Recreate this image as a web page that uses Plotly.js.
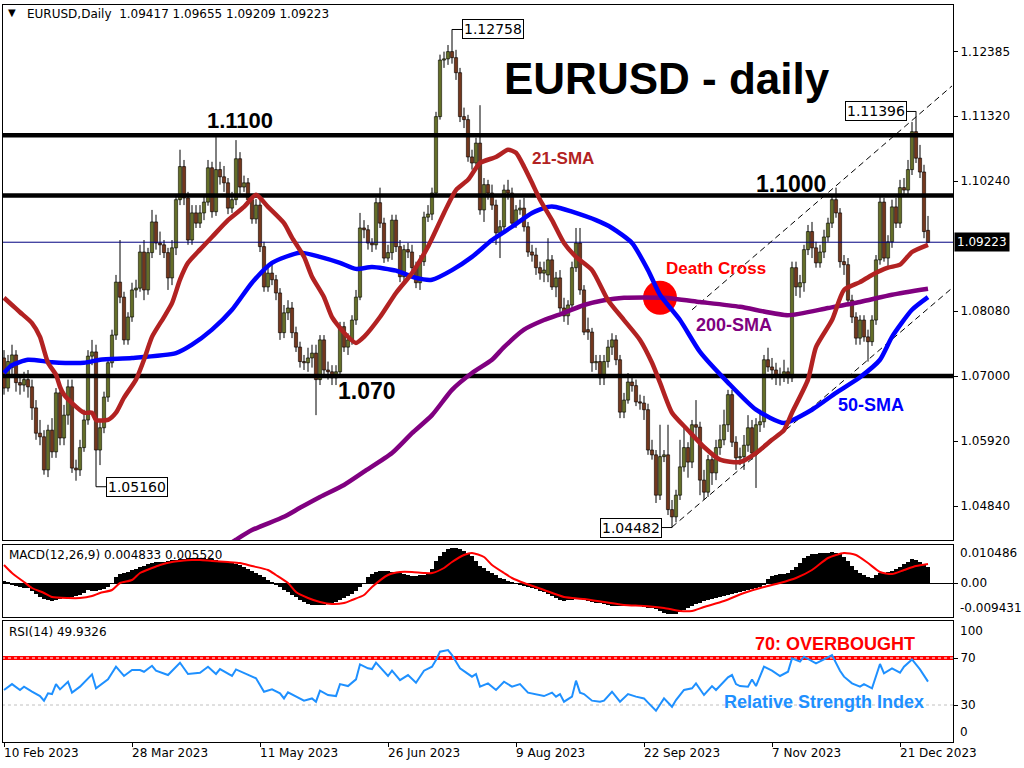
<!DOCTYPE html>
<html>
<head>
<meta charset="utf-8">
<script src="https://cdn.plot.ly/plotly-3.0.1.min.js"></script>
<style>
html,body{margin:0;padding:0;background:#ffffff;}
#chart{width:1024px;height:768px;}
</style>
</head>
<body>
<div id="chart"></div>
<script>
// ---------------- DATA ----------------
const xTickIdx  = [0, 32, 64, 96, 128, 160, 192, 224];
const xTickText = ['10 Feb 2023','28 Mar 2023','11 May 2023','26 Jun 2023','9 Aug 2023','22 Sep 2023','7 Nov 2023','21 Dec 2023'];

const openP = [
1.0730,1.0680,1.0714,1.0735,1.0689,1.0685,1.0694,1.0682,1.0647,1.0605,
1.0599,1.0544,1.0610,1.0574,1.0672,1.0597,1.0635,1.0682,1.0547,1.0544,
1.0581,1.0627,1.0733,1.0740,1.0577,1.0614,1.0665,1.0722,1.0768,1.0856,
1.0831,1.0760,1.0798,1.0843,1.0846,1.0906,1.0843,1.0905,1.0956,1.0921,
1.0918,1.0905,1.0863,1.0913,1.0993,1.1048,1.0996,1.0926,1.0971,1.0954,
1.0971,1.0989,1.1046,1.0973,1.1043,1.1031,1.1021,1.0979,1.0993,1.1061,
1.1014,1.1021,1.0993,1.0961,1.0984,1.0915,1.0848,1.0871,1.0860,1.0838,
1.0772,1.0805,1.0813,1.0772,1.0748,1.0724,1.0722,1.0730,1.0738,1.0694,
1.0760,1.0710,1.0707,1.0697,1.0707,1.0782,1.0748,1.0760,1.0793,1.0831,
1.0946,1.0943,1.0921,1.0918,1.0988,1.0954,1.0896,1.0905,1.0959,1.0915,
1.0865,1.0910,1.0906,1.0880,1.0855,1.0890,1.0964,1.0969,1.1004,1.1131,
1.1225,1.1227,1.1239,1.1229,1.1204,1.1131,1.1126,1.1064,1.1054,1.1087,
1.0976,1.1018,1.1004,1.0984,1.0938,1.0948,1.1009,1.1004,1.0954,1.0976,
1.0979,1.0948,1.0906,1.0901,1.0880,1.0871,1.0868,1.0893,1.0848,1.0863,
1.0813,1.0800,1.0818,1.0880,1.0921,1.0843,1.0777,1.0773,1.0722,1.0724,
1.0697,1.0724,1.0748,1.0760,1.0727,1.0640,1.0660,1.0690,1.0684,1.0657,
1.0655,1.0644,1.0577,1.0569,1.0502,1.0566,1.0569,1.0478,1.0466,1.0502,
1.0549,1.0581,1.0557,1.0619,1.0615,1.0527,1.0507,1.0561,1.0539,1.0581,
1.0594,1.0619,1.0669,1.0590,1.0564,1.0566,1.0585,1.0614,1.0572,1.0619,
1.0624,1.0727,1.0715,1.0710,1.0699,1.0702,1.0707,1.0697,1.0880,1.0848,
1.0855,1.0910,1.0940,1.0913,1.0888,1.0906,1.0931,1.0954,1.0993,1.0971,
1.0890,1.0885,1.0826,1.0798,1.0763,1.0793,1.0765,1.0757,1.0793,1.0893,
1.0989,1.0896,1.0923,1.0981,1.0954,1.1013,1.1009,1.1043,1.1106,1.1062,
1.1039,1.0942];

const highP = [
1.0743,1.0735,1.0752,1.0743,1.0700,1.0707,1.0710,1.0694,1.0660,1.0627,
1.0610,1.0619,1.0630,1.0680,1.0685,1.0652,1.0694,1.0694,1.0561,1.0594,
1.0644,1.0743,1.0760,1.0752,1.0627,1.0674,1.0730,1.0777,1.0868,1.0926,
1.0840,1.0806,1.0855,1.0860,1.0918,1.0926,1.0913,1.0976,1.0968,1.0940,
1.0926,1.0913,1.0926,1.1001,1.1076,1.1059,1.1006,1.0984,1.0984,1.0984,
1.1001,1.1059,1.1056,1.1097,1.1056,1.1049,1.1029,1.1006,1.1092,1.1072,
1.1033,1.1029,1.1001,1.0994,1.0993,1.0923,1.0883,1.0885,1.0868,1.0846,
1.0818,1.0826,1.0823,1.0782,1.0757,1.0735,1.0747,1.0752,1.0752,1.0768,
1.0768,1.0724,1.0718,1.0718,1.0790,1.0790,1.0771,1.0801,1.0843,1.0971,
1.0959,1.0951,1.0929,1.0996,1.1013,1.0963,1.0918,1.0968,1.0968,1.0926,
1.0918,1.0921,1.0918,1.0890,1.0901,1.0973,1.0984,1.1013,1.1139,1.1234,
1.1239,1.1250,1.1276,1.1242,1.1212,1.1146,1.1134,1.1076,1.1096,1.1150,
1.1029,1.1026,1.1018,1.0993,1.0959,1.1018,1.1026,1.1013,1.0984,1.0993,
1.0996,1.0956,1.0918,1.0913,1.0890,1.0890,1.0929,1.0901,1.0873,1.0876,
1.0830,1.0826,1.0890,1.0946,1.0946,1.0851,1.0797,1.0780,1.0735,1.0735,
1.0735,1.0760,1.0771,1.0768,1.0735,1.0672,1.0705,1.0700,1.0694,1.0669,
1.0667,1.0654,1.0594,1.0577,1.0619,1.0577,1.0619,1.0494,1.0511,1.0594,
1.0619,1.0590,1.0627,1.0660,1.0624,1.0544,1.0569,1.0572,1.0594,1.0619,
1.0644,1.0677,1.0677,1.0600,1.0581,1.0602,1.0635,1.0627,1.0630,1.0644,
1.0735,1.0747,1.0730,1.0722,1.0714,1.0727,1.0714,1.0890,1.0890,1.0868,
1.0918,1.0951,1.0956,1.0923,1.0918,1.0943,1.0963,1.1001,1.1013,1.0979,
1.0901,1.0896,1.0835,1.0806,1.0801,1.0801,1.0777,1.0801,1.0901,1.1001,
1.0996,1.0934,1.0993,1.0996,1.1026,1.1029,1.1059,1.1122,1.1140,1.1084,
1.1051,1.0966];

const lowP = [
1.0669,1.0674,1.0702,1.0674,1.0669,1.0674,1.0664,1.0627,1.0594,1.0585,
1.0536,1.0532,1.0564,1.0564,1.0585,1.0585,1.0619,1.0539,1.0526,1.0534,
1.0574,1.0619,1.0718,1.0516,1.0552,1.0605,1.0657,1.0714,1.0760,1.0821,
1.0752,1.0752,1.0790,1.0830,1.0840,1.0826,1.0835,1.0896,1.0910,1.0901,
1.0896,1.0843,1.0851,1.0901,1.0984,1.0984,1.0918,1.0918,1.0946,1.0946,
1.0959,1.0983,1.0963,1.0966,1.1018,1.1006,1.0969,1.0971,1.0984,1.1001,
1.1006,1.0984,1.0953,1.0953,1.0906,1.0840,1.0840,1.0851,1.0826,1.0760,
1.0763,1.0793,1.0763,1.0740,1.0714,1.0710,1.0707,1.0714,1.0635,1.0685,
1.0702,1.0694,1.0685,1.0685,1.0697,1.0740,1.0735,1.0752,1.0785,1.0826,
1.0929,1.0910,1.0906,1.0910,1.0946,1.0888,1.0890,1.0893,1.0906,1.0856,
1.0856,1.0896,1.0873,1.0846,1.0843,1.0883,1.0956,1.0959,1.0999,1.1126,
1.1212,1.1217,1.1219,1.1192,1.1122,1.1112,1.1056,1.1043,1.1046,1.0968,
1.0956,1.0993,1.0976,1.0918,1.0896,1.0940,1.0993,1.0946,1.0946,1.0968,
1.0940,1.0898,1.0890,1.0868,1.0860,1.0856,1.0856,1.0843,1.0831,1.0806,
1.0790,1.0785,1.0810,1.0873,1.0835,1.0768,1.0760,1.0707,1.0710,1.0685,
1.0685,1.0714,1.0735,1.0718,1.0630,1.0630,1.0654,1.0674,1.0650,1.0644,
1.0627,1.0569,1.0561,1.0489,1.0494,1.0557,1.0469,1.0448,1.0457,1.0494,
1.0541,1.0531,1.0547,1.0594,1.0502,1.0494,1.0499,1.0519,1.0527,1.0569,
1.0585,1.0607,1.0582,1.0544,1.0552,1.0544,1.0574,1.0561,1.0514,1.0607,
1.0614,1.0707,1.0694,1.0685,1.0684,1.0690,1.0687,1.0690,1.0833,1.0830,
1.0840,1.0901,1.0896,1.0880,1.0880,1.0896,1.0923,1.0946,1.0963,1.0880,
1.0868,1.0816,1.0788,1.0752,1.0752,1.0757,1.0724,1.0750,1.0785,1.0885,
1.0890,1.0883,1.0913,1.0946,1.0946,1.0999,1.1001,1.1034,1.1054,1.1029,
1.0929,1.0921];

const closeP = [
1.0680,1.0724,1.0735,1.0689,1.0685,1.0694,1.0682,1.0647,1.0605,1.0599,
1.0544,1.0610,1.0574,1.0672,1.0597,1.0635,1.0682,1.0547,1.0544,1.0581,
1.0627,1.0733,1.0740,1.0577,1.0614,1.0665,1.0722,1.0768,1.0856,1.0831,
1.0760,1.0798,1.0843,1.0846,1.0906,1.0843,1.0905,1.0956,1.0921,1.0918,
1.0905,1.0863,1.0913,1.0993,1.1048,1.0996,1.0926,1.0971,1.0954,1.0971,
1.0989,1.1046,1.0973,1.1043,1.1031,1.1021,1.0979,1.0993,1.1061,1.1014,
1.1021,1.0993,1.0961,1.0984,1.0915,1.0848,1.0871,1.0860,1.0838,1.0772,
1.0805,1.0813,1.0772,1.0748,1.0724,1.0722,1.0730,1.0738,1.0694,1.0760,
1.0710,1.0707,1.0697,1.0707,1.0782,1.0748,1.0760,1.0793,1.0831,1.0946,
1.0943,1.0921,1.0918,1.0988,1.0954,1.0896,1.0905,1.0959,1.0915,1.0865,
1.0910,1.0906,1.0880,1.0855,1.0890,1.0964,1.0969,1.1004,1.1131,1.1225,
1.1227,1.1239,1.1229,1.1204,1.1131,1.1126,1.1064,1.1054,1.1087,1.0976,
1.1018,1.1004,1.0984,1.0938,1.0948,1.1009,1.1004,1.0954,1.0976,1.0979,
1.0948,1.0906,1.0901,1.0880,1.0871,1.0876,1.0893,1.0848,1.0863,1.0813,
1.0800,1.0818,1.0880,1.0921,1.0843,1.0773,1.0773,1.0722,1.0724,1.0697,
1.0724,1.0748,1.0760,1.0727,1.0640,1.0660,1.0690,1.0684,1.0657,1.0655,
1.0644,1.0577,1.0569,1.0502,1.0566,1.0569,1.0478,1.0466,1.0502,1.0549,
1.0581,1.0557,1.0619,1.0615,1.0527,1.0507,1.0561,1.0539,1.0581,1.0594,
1.0619,1.0669,1.0590,1.0564,1.0566,1.0585,1.0614,1.0572,1.0619,1.0624,
1.0727,1.0715,1.0710,1.0699,1.0702,1.0707,1.0697,1.0880,1.0848,1.0855,
1.0910,1.0940,1.0913,1.0888,1.0906,1.0931,1.0954,1.0993,1.0971,1.0890,
1.0885,1.0826,1.0798,1.0763,1.0793,1.0765,1.0757,1.0793,1.0893,1.0989,
1.0896,1.0923,1.0981,1.0954,1.1013,1.1009,1.1043,1.1106,1.1062,1.1039,
1.0940,1.0922];

// moving averages at sample bars
const sma21Idx = [0,2,4,7,9,10,11,13,14,15,17,20,22,23,26,28,30,33,35,37,40,42,44,46,49,52,56,60,63,66,70,72,75,77,80,82,85,88,90,94,98,102,106,110,113,116,119,123,126,128,130,132,134,137,140,143,147,151,155,159,162,164,167,171,175,179,184,188,192,195,197,201,203,207,210,214,217,221,224,227,231];
const sma21Val = [1.0830,1.0818,1.0806,1.0788,1.0765,1.0743,1.0722,1.0702,1.0682,1.0669,1.0655,1.0639,1.0639,1.0627,1.0627,1.0639,1.0664,1.0694,1.0727,1.0765,1.0798,1.0821,1.0860,1.0888,1.0910,1.0931,1.0959,1.0981,1.1001,1.0981,1.0954,1.0930,1.0898,1.0865,1.0831,1.0798,1.0772,1.0755,1.0765,1.0798,1.0838,1.0871,1.0915,1.0971,1.1009,1.1026,1.1054,1.1064,1.1076,1.1071,1.1048,1.1021,1.0993,1.0959,1.0921,1.0898,1.0876,1.0826,1.0793,1.0760,1.0722,1.0689,1.0639,1.0610,1.0582,1.0561,1.0557,1.0572,1.0594,1.0610,1.0639,1.0694,1.0748,1.0793,1.0843,1.0856,1.0868,1.0880,1.0885,1.0906,1.0918];

const sma50Idx = [0,2,6,12,20,24,32,43,47,52,57,62,67,74,79,84,88,92,98,103,107,112,117,122,127,132,136,138,142,148,152,157,161,164,169,174,181,188,195,202,208,214,219,222,227,231];
const sma50Val = [1.0705,1.0718,1.0727,1.0723,1.0722,1.0727,1.0730,1.0738,1.0752,1.0777,1.0810,1.0855,1.0888,1.0905,1.0898,1.0888,1.0878,1.0881,1.0875,1.0863,1.0860,1.0876,1.0898,1.0926,1.0948,1.0971,1.0981,1.0981,1.0973,1.0959,1.0946,1.0921,1.0876,1.0835,1.0793,1.0740,1.0689,1.0644,1.0622,1.0644,1.0672,1.0698,1.0727,1.0765,1.0810,1.0831];

const sma200Idx = [55,58,62,70,74,79,85,90,97,102,107,112,117,122,125,130,135,140,145,150,155,165,174,184,196,206,214,222,231];
const sma200Val = [1.0415,1.0428,1.0444,1.0466,1.0481,1.0499,1.0519,1.0541,1.0572,1.0605,1.0635,1.0677,1.0705,1.0727,1.0748,1.0777,1.0793,1.0805,1.0818,1.0826,1.0830,1.0830,1.0823,1.0815,1.0801,1.0813,1.0823,1.0835,1.0845];

// horizontal levels and trend channel
const levels = [1.1100, 1.1000, 1.0700];
const lastPrice = 1.09223;
const trendLowIdx = [167, 237];
const trendLowVal = [1.0449, 1.0846];
const trendUpIdx  = [172, 237];
const trendUpVal  = [1.0810, 1.1182];
const crossIdx = [164];
const crossVal = [1.0830];

// price tick labels (right axis)
const priceTicks = [1.12385, 1.11320, 1.10240, 1.08080, 1.07000, 1.05920, 1.04840];

// MACD histogram (one per bar) and signal line
const macdHist = [
0.0006,0.0003,-0.0006,-0.0009,-0.0012,-0.0015,-0.0015,-0.0024,-0.0033,-0.0042,
-0.0048,-0.0051,-0.0054,-0.0051,-0.0048,-0.0045,-0.0045,-0.0042,-0.0039,-0.0036,
-0.0030,-0.0021,-0.0024,-0.0024,-0.0021,-0.0018,-0.0012,-0.0003,
0.0018,0.0027,0.0030,0.0033,0.0039,0.0042,0.0048,0.0051,0.0057,0.0060,
0.0063,0.0063,0.0063,0.0066,0.0069,0.0069,0.0072,0.0072,0.0075,0.0075,
0.0075,0.0075,0.0075,0.0072,0.0072,0.0069,0.0066,0.0066,0.0063,0.0060,
0.0057,0.0054,0.0048,0.0042,0.0036,0.0030,0.0024,0.0018,0.0009,0.0003,
-0.0006,-0.0012,-0.0021,-0.0027,-0.0036,-0.0042,-0.0051,-0.0057,-0.0063,-0.0066,
-0.0066,-0.0066,-0.0066,-0.0063,-0.0060,-0.0057,-0.0051,-0.0045,-0.0039,-0.0033,
-0.0024,-0.0012,0.0000,
0.0018,0.0027,0.0033,0.0036,0.0036,0.0036,0.0033,0.0030,0.0030,0.0027,
0.0024,0.0021,0.0021,0.0024,0.0024,0.0027,0.0042,0.0066,0.0081,0.0093,
0.0102,0.0105,0.0105,0.0102,0.0096,0.0090,0.0081,0.0066,0.0051,0.0045,
0.0036,0.0030,0.0024,0.0015,0.0012,0.0006,0.0003,
-0.0003,-0.0006,-0.0009,-0.0012,-0.0015,-0.0018,-0.0024,-0.0027,-0.0033,
-0.0039,-0.0045,-0.0051,-0.0054,-0.0051,-0.0051,-0.0048,-0.0048,-0.0051,-0.0054,
-0.0057,-0.0060,-0.0060,-0.0063,-0.0066,-0.0069,-0.0069,-0.0069,-0.0069,-0.0069,
-0.0069,-0.0069,-0.0069,-0.0072,-0.0075,-0.0075,-0.0078,-0.0084,-0.0090,-0.0094,
-0.0093,-0.0093,-0.0087,-0.0081,-0.0075,-0.0069,-0.0063,-0.0060,-0.0054,-0.0051,
-0.0048,-0.0045,-0.0042,-0.0039,-0.0036,-0.0033,-0.0030,-0.0027,-0.0024,-0.0021,
-0.0018,-0.0015,-0.0012,-0.0006,
0.0012,0.0021,0.0024,0.0027,0.0027,0.0030,0.0039,0.0048,0.0060,0.0075,
0.0081,0.0087,0.0087,0.0090,0.0090,0.0090,0.0093,0.0090,0.0087,0.0078,
0.0066,0.0051,0.0039,0.0030,0.0024,0.0018,0.0015,0.0024,0.0030,0.0030,
0.0033,0.0036,0.0042,0.0048,0.0057,0.0063,0.0072,0.0069,0.0063,0.0057,
0.0048];
const signalIdx = [0,2,5,7,10,12,16,19,22,24,27,29,32,34,37,39,42,44,47,49,52,56,59,62,66,68,71,73,76,79,82,85,87,90,92,96,99,102,105,107,110,112,115,117,120,122,125,127,130,135,140,145,150,155,160,165,169,172,175,180,185,190,194,198,202,206,210,213,216,219,222,225,228,231];
const signalVal = [0.0054,0.0030,0.0003,-0.0015,-0.0030,-0.0042,-0.0045,-0.0045,-0.0039,-0.0030,-0.0021,0.0000,0.0009,0.0030,0.0045,0.0054,0.0063,0.0066,0.0069,0.0069,0.0066,0.0063,0.0060,0.0051,0.0039,0.0024,0.0000,-0.0027,-0.0045,-0.0057,-0.0063,-0.0060,-0.0051,-0.0036,-0.0012,0.0024,0.0033,0.0033,0.0030,0.0030,0.0045,0.0063,0.0084,0.0090,0.0078,0.0054,0.0030,0.0015,0.0000,-0.0021,-0.0042,-0.0048,-0.0057,-0.0066,-0.0069,-0.0075,-0.0084,-0.0084,-0.0072,-0.0054,-0.0030,-0.0012,0.0000,0.0015,0.0039,0.0075,0.0090,0.0084,0.0060,0.0033,0.0027,0.0039,0.0051,0.0057];

// RSI(14)
const rsiIdx = [0,2,4,5,7,9,10,11,12,13,14,16,17,19,22,23,26,28,30,32,34,35,37,38,41,44,46,49,51,53,54,57,58,61,63,65,67,69,70,71,73,75,77,78,79,81,83,84,86,88,89,91,92,93,96,97,99,101,103,105,107,108,109,111,112,114,117,118,119,121,123,125,127,129,131,133,135,137,138,139,140,142,143,144,145,147,149,150,152,154,156,158,160,161,163,165,167,168,170,172,173,175,177,178,181,182,183,184,186,187,188,190,192,194,196,197,199,200,203,205,207,209,210,212,214,215,217,219,220,222,224,225,227,229,231];
const rsiVal = [42.8,47.8,42.8,45.6,41.3,37.6,33.7,39.9,39.3,47.8,43.3,49.8,40.5,45.6,56.1,44.2,51.8,62.6,54.7,59.8,59.8,58.3,63.4,59.2,55.5,66.0,56.4,57.5,62.6,56.4,60.6,54.7,60.3,55.5,52.7,41.3,43.3,39.9,35.6,40.8,37.6,33.7,35.6,32.8,42.2,38.5,37.6,47.8,46.1,51.8,64.6,61.2,60.6,66.0,54.7,59.2,51.2,55.5,48.9,59.2,62.6,68.3,75.4,76.8,72.5,61.2,54.1,56.4,45.6,48.4,42.8,49.8,45.6,47.8,40.5,39.3,37.6,40.5,37.1,39.3,32.8,37.1,50.7,40.5,39.3,33.7,32.8,33.7,41.3,32.8,39.3,37.1,35.6,32.0,25.1,35.6,28.5,34.2,42.8,44.2,48.4,38.5,46.1,42.8,53.5,55.5,47.8,46.1,45.6,51.8,46.1,62.6,59.2,54.7,58.3,69.7,66.9,71.1,65.4,68.8,72.5,59.2,54.1,48.4,45.6,47.8,44.2,64.9,56.9,61.2,57.5,62.6,68.8,60.3,49.9];
const rsiLevels = [70, 30];

// ---------------- LAYOUT HELPERS (pixel -> paper) ----------------
const L = 3, R = 71, T = 5, B = 26, W = 1024, H = 768;
const PW = W - L - R, PH = H - T - B;
const PX = x => (x - L) / PW;
const PY = y => (H - B - y) / PH;

const barIdx = openP.map((_, i) => i);
const XR = [-0.25, 237.25];
const FONT = 'DejaVu Sans, Verdana, sans-serif';
const BOLD = 'Liberation Sans, Arial, sans-serif';
const UP = '#c8dc50', DOWN = '#e66e3a';

function hline(vals, xref, yref, color, width, dash) {
  const xs = [], ys = [];
  vals.forEach(v => { xs.push(-2, 240, null); ys.push(v, v, null); });
  return {type:'scatter', mode:'lines', x:xs, y:ys, xaxis:xref, yaxis:yref,
          line:{color:color, width:width, dash:dash || 'solid'}, hoverinfo:'skip'};
}

const traces = [];
// candle wicks (high-low), built from the OHLC arrays
const wx = [], wy = [];
barIdx.forEach(i => { wx.push(i, i, null); wy.push(lowP[i], highP[i], null); });
traces.push({type:'scatter', mode:'lines', x:wx, y:wy, xaxis:'x', yaxis:'y',
  line:{color:'#000000', width:1}, hoverinfo:'skip'});
// candle bodies (open-close)
traces.push({type:'bar', x:barIdx,
  base:barIdx.map(i => Math.min(openP[i], closeP[i])),
  y:barIdx.map(i => Math.abs(closeP[i] - openP[i])),
  width:0.8, xaxis:'x', yaxis:'y',
  marker:{color:barIdx.map(i => closeP[i] >= openP[i] ? UP : DOWN), line:{color:'#000000', width:0.7}},
  hoverinfo:'skip'});
// levels
traces.push(hline(levels, 'x', 'y', '#000000', 4.5));
traces.push(hline([lastPrice], 'x', 'y', '#000080', 1));
// trend channel
traces.push({type:'scatter', mode:'lines', x:trendLowIdx, y:trendLowVal, xaxis:'x', yaxis:'y',
  line:{color:'#000000', width:1, dash:'6px,4px'}, hoverinfo:'skip'});
traces.push({type:'scatter', mode:'lines', x:trendUpIdx, y:trendUpVal, xaxis:'x', yaxis:'y',
  line:{color:'#000000', width:1, dash:'6px,4px'}, hoverinfo:'skip'});
// death-cross marker
traces.push({type:'scatter', mode:'markers', x:crossIdx, y:crossVal, xaxis:'x', yaxis:'y',
  marker:{color:'#ff0000', size:34, line:{width:0}}, hoverinfo:'skip'});
// SMAs
traces.push({type:'scatter', mode:'lines', x:sma200Idx, y:sma200Val, xaxis:'x', yaxis:'y',
  line:{color:'#800080', width:4.5, shape:'spline', smoothing:0.6}, hoverinfo:'skip'});
traces.push({type:'scatter', mode:'lines', x:sma50Idx, y:sma50Val, xaxis:'x', yaxis:'y',
  line:{color:'#0000ff', width:4.5, shape:'spline', smoothing:0.6}, hoverinfo:'skip'});
traces.push({type:'scatter', mode:'lines', x:sma21Idx, y:sma21Val, xaxis:'x', yaxis:'y',
  line:{color:'#b22222', width:4.5, shape:'spline', smoothing:0.6}, hoverinfo:'skip'});
// MACD
traces.push({type:'bar', x:barIdx, y:macdHist, xaxis:'x2', yaxis:'y2', width:1,
  marker:{color:'#000000', line:{width:0}}, hoverinfo:'skip'});
traces.push({type:'scatter', mode:'lines', x:signalIdx, y:signalVal, xaxis:'x2', yaxis:'y2',
  line:{color:'#ff0000', width:2, shape:'spline', smoothing:0.6}, hoverinfo:'skip'});
// RSI
traces.push(hline([rsiLevels[1]], 'x3', 'y3', '#c0c0c0', 1, '3px,3px'));
traces.push(hline([rsiLevels[0]], 'x3', 'y3', '#ff0000', 4));
traces.push(hline([rsiLevels[0]], 'x3', 'y3', '#ffffff', 1, '3px,3px'));
traces.push({type:'scatter', mode:'lines', x:rsiIdx, y:rsiVal, xaxis:'x3', yaxis:'y3',
  line:{color:'#1e90ff', width:2}, hoverinfo:'skip'});

// ---------------- ANNOTATIONS ----------------
const ann = [];
const small = {family:FONT, size:12, color:'#000000'};
ann.push({xref:'paper', yref:'paper', x:PX(12), y:PY(13), text:'▼', showarrow:false,
  xanchor:'center', yanchor:'middle', font:{family:FONT, size:10, color:'#000'}});
ann.push({xref:'paper', yref:'paper', x:PX(25), y:PY(14),
  text:'EURUSD,Daily  1.09417 1.09655 1.09209 1.09223',
  showarrow:false, xanchor:'left', yanchor:'middle', font:small});
ann.push({xref:'paper', yref:'paper', x:PX(7), y:PY(555), text:'MACD(12,26,9) 0.004833 0.005520',
  showarrow:false, xanchor:'left', yanchor:'middle', font:small});
ann.push({xref:'paper', yref:'paper', x:PX(7), y:PY(632), text:'RSI(14) 49.9326',
  showarrow:false, xanchor:'left', yanchor:'middle', font:small});
// x labels (MT4 style: left aligned at tick)
xTickIdx.forEach((v, k) => ann.push({xref:'x3', yref:'paper', x:v, y:PY(753), text:xTickText[k],
  showarrow:false, xanchor:'left', yanchor:'middle', xshift:-2, font:small}));
// extra right-side labels
[['0.010486', 553], ['-0.009431', 608], ['100', 631], ['0', 732]].forEach(p =>
  ann.push({xref:'paper', yref:'paper', x:PX(958), y:PY(p[1]), text:p[0], showarrow:false,
    xanchor:'left', yanchor:'middle', font:small}));
// current price box
ann.push({xref:'paper', yref:'y', x:PX(954), y:lastPrice, text:'1.09223', showarrow:false,
  xanchor:'left', yanchor:'middle', bgcolor:'#000000', borderpad:2,
  font:{family:FONT, size:12, color:'#ffffff'}});
// titles/labels on chart
function lbl(x, y, t, size, color, yref) {
  ann.push({xref:'x', yref:yref || 'y', x:x, y:y, text:'<b>' + t + '</b>', showarrow:false,
    xanchor:'center', yanchor:'middle', font:{family:BOLD, size:size, color:color}});
}
lbl(165.75, 1.1195, 'EURUSD - daily', 44, '#000000');
lbl(59, 1.1124, '1.1100', 22, '#000000');
lbl(196.75, 1.1019, '1.1000', 23, '#000000');
lbl(90.75, 1.0675, '1.070', 23, '#000000');
lbl(139.75, 1.1062, '21-SMA', 17, '#b22222');
lbl(178, 1.0878, 'Death Cross', 17, '#ff0000');
lbl(182.5, 1.0785, '200-SMA', 18, '#800080');
lbl(216.75, 1.0652, '50-SMA', 18, '#0000ff');
ann.push({xref:'x3', yref:'y3', x:207.75, y:81.9, text:'<b>70: OVERBOUGHT</b>', showarrow:false,
  xanchor:'center', yanchor:'middle', font:{family:BOLD, size:18, color:'#ff0000'}});
ann.push({xref:'x3', yref:'y3', x:205, y:32.6, text:'<b>Relative Strength Index</b>', showarrow:false,
  xanchor:'center', yanchor:'middle', font:{family:BOLD, size:18, color:'#1e90ff'}});
// price callouts
const callIdx = [112, 228, 23, 167];
const callVal = [1.12758, 1.11396, 1.05160, 1.04482];
const callOff = [41, -40, 41, -41];
callIdx.forEach((v, k) => ann.push({xref:'x', yref:'y', x:v, y:callVal[k], text:callVal[k].toFixed(5),
  showarrow:true, arrowhead:0, arrowwidth:1, arrowcolor:'#000000', ax:callOff[k], ay:0, standoff:0,
  bgcolor:'#ffffff', bordercolor:'#000000', borderwidth:1, borderpad:1,
  font:{family:FONT, size:14, color:'#000000'}}));

// ---------------- AXES ----------------
const axBase = {showgrid:false, zeroline:false, showline:true, mirror:true, linecolor:'#000000',
  linewidth:1, fixedrange:true};
const layout = {
  width:W, height:H, margin:{l:L, r:R, t:T, b:B, pad:0},
  paper_bgcolor:'#ffffff', plot_bgcolor:'#ffffff', showlegend:false,
  barmode:'overlay', bargap:0, hovermode:false, font:{family:FONT, size:12, color:'#000'},
  xaxis: Object.assign({}, axBase, {domain:[0,1], anchor:'y', range:XR, showticklabels:false, ticks:''}),
  yaxis: Object.assign({}, axBase, {domain:[PY(540), 1], anchor:'x', side:'right',
    range:[1.04275, 1.13165], tickvals:priceTicks, tickformat:'.5f', ticks:'outside', ticklen:4,
    tickcolor:'#000', tickfont:small}),
  xaxis2: Object.assign({}, axBase, {anchor:'y2', matches:'x', range:XR, showticklabels:false, ticks:''}),
  yaxis2: Object.assign({}, axBase, {domain:[PY(617), PY(545)], anchor:'x2', side:'right',
    range:[-0.0102, 0.0114], tickvals:[0], ticktext:['0.00'], ticks:'outside', ticklen:4,
    tickcolor:'#000', zeroline:true, zerolinecolor:'#000000', zerolinewidth:1, tickfont:small}),
  xaxis3: Object.assign({}, axBase, {anchor:'y3', matches:'x', range:XR, tickvals:xTickIdx,
    showticklabels:false, ticks:'outside', ticklen:4, tickcolor:'#000'}),
  yaxis3: Object.assign({}, axBase, {domain:[0, PY(621)], anchor:'x3', side:'right',
    range:[-1.5, 101.5], tickvals:rsiLevels, ticktext:rsiLevels.map(String), ticks:'outside',
    ticklen:4, tickcolor:'#000', tickfont:small}),
  annotations: ann
};

Plotly.newPlot('chart', traces, layout, {displayModeBar:false, staticPlot:true});
</script>
</body>
</html>
